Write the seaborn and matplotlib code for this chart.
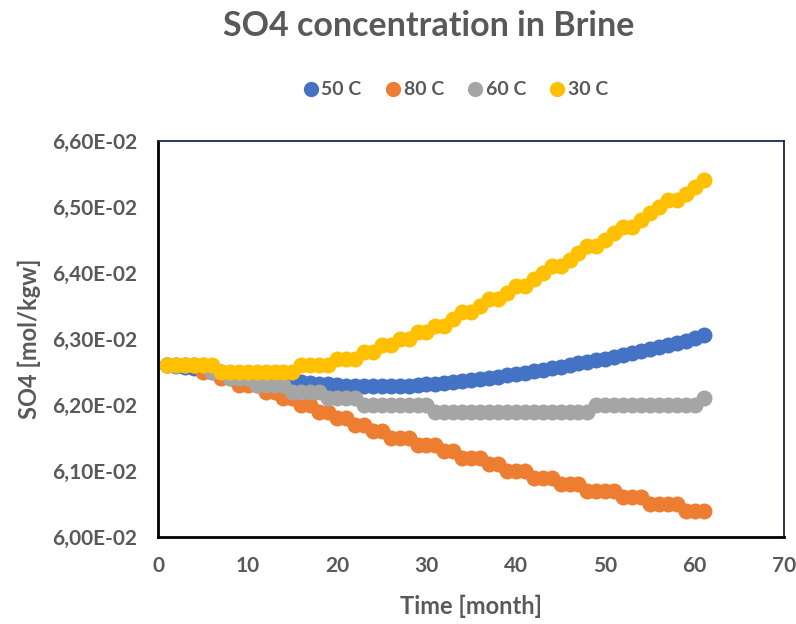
import numpy as np
import pandas as pd
import matplotlib
matplotlib.use("Agg")
import matplotlib.pyplot as plt
import seaborn as sns
from matplotlib.ticker import FuncFormatter
from matplotlib.lines import Line2D

# months 1..61
months = list(range(1, 62))

# values in units of 1E-02 mol/kgw
so4_50C = [6.260, 6.259, 6.258, 6.256, 6.254, 6.252, 6.250, 6.248, 6.246, 6.244,
           6.242, 6.240, 6.238, 6.237, 6.235, 6.234, 6.233, 6.232, 6.231, 6.230,
           6.229, 6.229, 6.228, 6.228, 6.228, 6.228, 6.229, 6.229, 6.230, 6.231,
           6.232, 6.233, 6.235, 6.236, 6.238, 6.239, 6.241, 6.243, 6.245, 6.247,
           6.249, 6.251, 6.253, 6.256, 6.258, 6.260, 6.263, 6.265, 6.268, 6.270,
           6.273, 6.276, 6.279, 6.282, 6.285, 6.288, 6.291, 6.294, 6.297, 6.301,
           6.306]
so4_80C = [6.26, 6.26, 6.26, 6.26, 6.25, 6.25, 6.24, 6.24, 6.23, 6.23,
           6.23, 6.22, 6.22, 6.21, 6.21, 6.20, 6.20, 6.19, 6.19, 6.18,
           6.18, 6.17, 6.17, 6.16, 6.16, 6.15, 6.15, 6.15, 6.14, 6.14,
           6.14, 6.13, 6.13, 6.12, 6.12, 6.12, 6.11, 6.11, 6.10, 6.10,
           6.10, 6.09, 6.09, 6.09, 6.08, 6.08, 6.08, 6.07, 6.07, 6.07,
           6.07, 6.06, 6.06, 6.06, 6.05, 6.05, 6.05, 6.05, 6.04, 6.04,
           6.04]
so4_60C = [6.26, 6.26, 6.26, 6.26, 6.26, 6.25, 6.25, 6.24, 6.24, 6.24,
           6.23, 6.23, 6.23, 6.23, 6.22, 6.22, 6.22, 6.22, 6.21, 6.21,
           6.21, 6.21, 6.20, 6.20, 6.20, 6.20, 6.20, 6.20, 6.20, 6.20,
           6.19, 6.19, 6.19, 6.19, 6.19, 6.19, 6.19, 6.19, 6.19, 6.19,
           6.19, 6.19, 6.19, 6.19, 6.19, 6.19, 6.19, 6.19, 6.20, 6.20,
           6.20, 6.20, 6.20, 6.20, 6.20, 6.20, 6.20, 6.20, 6.20, 6.20,
           6.21]
so4_30C = [6.26, 6.26, 6.26, 6.26, 6.26, 6.26, 6.25, 6.25, 6.25, 6.25,
           6.25, 6.25, 6.25, 6.25, 6.25, 6.26, 6.26, 6.26, 6.26, 6.27,
           6.27, 6.27, 6.28, 6.28, 6.29, 6.29, 6.30, 6.30, 6.31, 6.31,
           6.32, 6.32, 6.33, 6.34, 6.34, 6.35, 6.36, 6.36, 6.37, 6.38,
           6.38, 6.39, 6.40, 6.41, 6.41, 6.42, 6.43, 6.44, 6.44, 6.45,
           6.46, 6.47, 6.47, 6.48, 6.49, 6.50, 6.51, 6.51, 6.52, 6.53,
           6.54]

series_names = ["50 C", "80 C", "60 C", "30 C"]
series_colors = ["#4472C4", "#ED7D31", "#A5A5A5", "#FFC000"]
series_values = [so4_50C, so4_80C, so4_60C, so4_30C]

x_ticks = [0, 10, 20, 30, 40, 50, 60, 70]
y_ticks = [0.060, 0.061, 0.062, 0.063, 0.064, 0.065, 0.066]

title_text = "SO4 concentration in Brine"
x_label = "Time [month]"
y_label = "SO4 [mol/kgw]"

frames = []
for name, vals in zip(series_names, series_values):
    frames.append(pd.DataFrame({"month": months,
                                "so4": np.array(vals) * 1e-2,
                                "series": name}))
df = pd.concat(frames, ignore_index=True)

sns.set_theme(style="white")
plt.rcParams["font.family"] = ["Lato", "DejaVu Sans"]
text_color = "#595959"

fig = plt.figure(figsize=(7.96, 6.24), dpi=100)
ax = fig.add_axes([0.1989, 0.1394, 0.7861, 0.6351])

sns.lineplot(data=df, x="month", y="so4", hue="series",
             hue_order=series_names, palette=series_colors,
             marker="o", markersize=11.5, markeredgewidth=0,
             linewidth=2, legend=False, ax=ax, sort=False)

ax.set_xlim(0, 70)
ax.set_ylim(0.060, 0.066)
ax.set_xticks(x_ticks)
ax.set_yticks(y_ticks)

def yfmt(v, pos):
    return f"{v * 100:.2f}".replace(".", ",") + "E-02"

ax.yaxis.set_major_formatter(FuncFormatter(yfmt))
ax.tick_params(axis="both", direction="in", length=6, width=1.2,
               colors="black", labelcolor=text_color, labelsize=15)
ax.tick_params(axis="y", pad=15)
ax.tick_params(axis="x", pad=14)
for lab in ax.get_xticklabels() + ax.get_yticklabels():
    lab.set_fontweight("bold")

ax.set_xlabel(x_label, fontsize=17, fontweight="bold", color=text_color, labelpad=13)
ax.set_ylabel(y_label, fontsize=17, fontweight="bold", color=text_color, labelpad=8)

for side in ["left", "bottom"]:
    ax.spines[side].set_color("black")
    ax.spines[side].set_linewidth(2)
for side in ["top", "right"]:
    ax.spines[side].set_color("#1F2650")
    ax.spines[side].set_linewidth(1.3)

fig.text(0.538, 0.958, title_text, ha="center", va="center",
         fontsize=24.5, fontweight="bold", color=text_color)

handles = [Line2D([0], [0], marker="o", color="none", markerfacecolor=c,
                  markeredgewidth=0, markersize=11) for c in series_colors]
fig.legend(handles, series_names, loc="center", bbox_to_anchor=(0.571, 0.856),
           ncol=4, frameon=False, handletextpad=0.05, columnspacing=1.1,
           prop={"size": 14, "weight": "bold"}, labelcolor=text_color,
           handlelength=1.0)

fig.savefig("out.png", dpi=100)
